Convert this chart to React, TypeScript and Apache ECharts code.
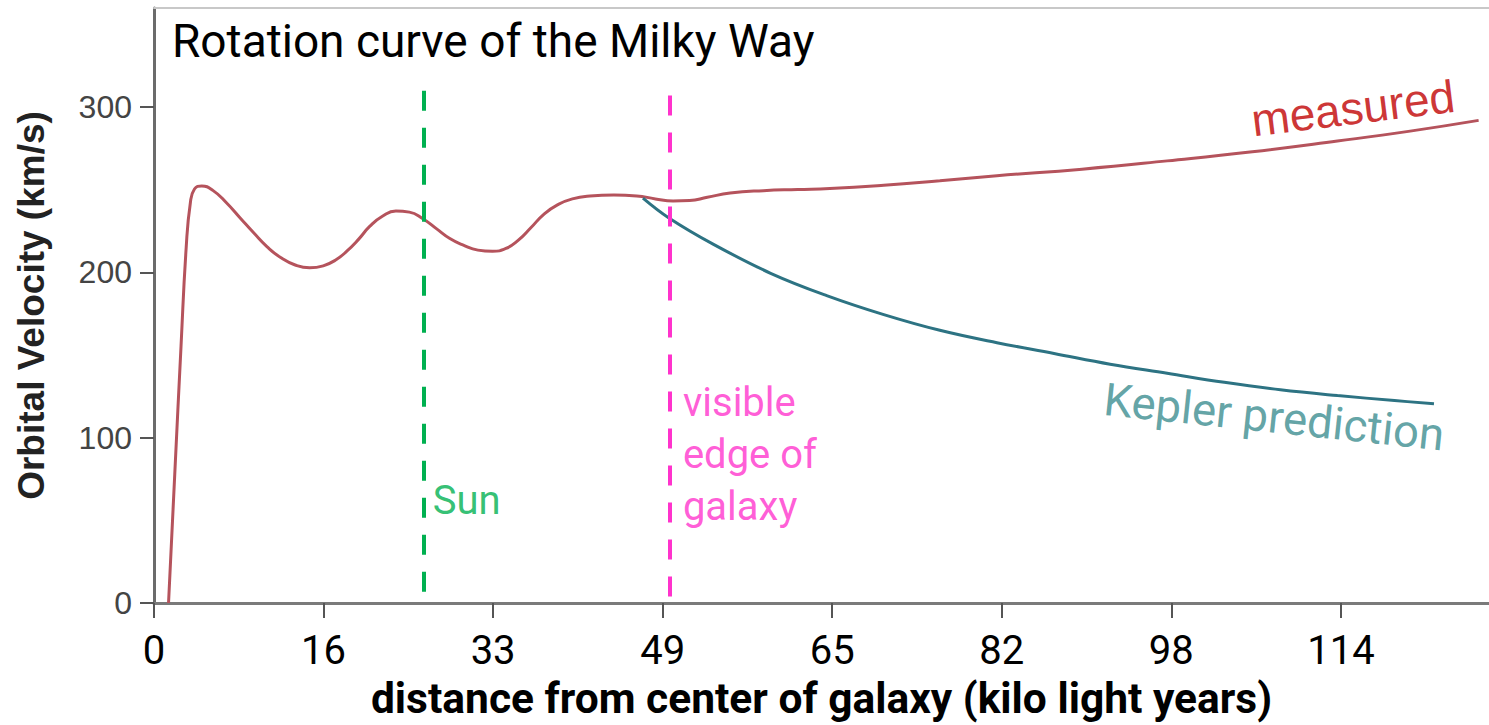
import React, { useEffect, useRef } from "react";
import * as echarts from "echarts";

// ---- data ----
const X_STEP = 49 / 3; // tick step of the distance axis (kilo light years)
const xTickLabels = ["0", "16", "33", "49", "65", "82", "98", "114"];
const yTickValues = [0, 100, 200, 300];

const measuredDistance = [
  1.4, 2.0, 2.6, 3.1, 3.5, 3.9, 4.6, 5.7, 7.0, 8.3, 9.6, 10.9, 12.2, 13.6, 15.0,
  16.3, 17.5, 18.6, 19.7, 20.8, 22.0, 23.3, 24.6, 25.9, 27.2, 28.5, 29.8, 31.2,
  32.6, 33.9, 35.1, 36.3, 37.6, 38.9, 40.3, 42.0, 44.3, 46.5, 48.3, 50.0, 51.6,
  53.3, 55.5, 58.7, 62.0, 65.1, 70.3, 75.7, 81.2, 89.4, 97.6, 105.8, 114.0, 121.0,
  127.6,
];
const measuredVelocity = [
  0, 78, 155, 215, 242, 250.5, 252.3, 249.5, 242, 233, 224, 215.5, 209, 204.5,
  202.8, 204, 207.5, 213, 220, 228, 234, 237.2, 236.5, 232.5, 226.5, 220.5, 216.5,
  213.5, 212.8, 214.5, 219.5, 227, 235.5, 241, 244.5, 246.2, 246.8, 246.3, 244.5,
  243.3, 243.5, 245.5, 248, 249.5, 250.2, 250.8, 252.8, 255.5, 258.5, 262.5, 267.5,
  273, 279.5, 285.5, 292,
];

const keplerDistance = [
  47.1, 49.6, 53.9, 59.4, 64.8, 70.3, 75.7, 81.2, 86.7, 92.1, 97.6, 103.1, 108.5,
  114.0, 119.5, 123.3,
];
const keplerVelocity = [
  245, 233, 217, 199.5, 186, 174.5, 165, 157.5, 151, 144.5, 139, 133.5, 129,
  125.5, 122.5, 120.5,
];

const sunDistance = 26;
const edgeDistance = 49.65;

const title = "Rotation curve of the Milky Way";
const xName = "distance from center of galaxy (kilo light years)";
const yName = "Orbital Velocity (km/s)";

const zip = (xs: number[], ys: number[]) => xs.map((x, i) => [x, ys[i]]);

export default function App() {
  const ref = useRef<HTMLDivElement>(null);

  useEffect(() => {
    if (!ref.current) return;
    const chart = echarts.init(ref.current, null, { renderer: "svg" });
    const xTickValues = xTickLabels.map((_, i) => i * X_STEP);
    const X_MAX = 128.6;

    chart.setOption({
      animation: false,
      backgroundColor: "#ffffff",
      title: {
        text: title,
        left: 167,
        top: 13,
        textStyle: {
          fontFamily: "Roboto",
          fontSize: 46,
          fontWeight: "normal",
          color: "#000000",
        },
      },
      grid: { left: 154, right: 0, top: 8, bottom: 113, containLabel: false },
      xAxis: [
        {
          type: "value",
          min: 0,
          max: X_MAX,
          interval: X_STEP,
          name: xName,
          nameLocation: "middle",
          nameGap: 74,
          nameTextStyle: {
            fontFamily: "Roboto",
            fontSize: 42.5,
            fontWeight: "bold",
            color: "#000000",
          },
          axisLine: { show: true, onZero: false, lineStyle: { color: "#7a7a7a", width: 3 } },
          axisTick: {
            show: true,
            customValues: xTickValues,
            length: 15,
            lineStyle: { color: "#555555", width: 2 },
          },
          axisLabel: {
            customValues: xTickValues,
            formatter: (v: number) => xTickLabels[Math.round(v / X_STEP)] ?? "",
            fontFamily: "Roboto",
            fontSize: 40,
            color: "#000000",
            margin: 27,
          },
          splitLine: { show: false },
        },
        {
          type: "value",
          position: "top",
          min: 0,
          max: X_MAX,
          axisLine: { show: true, onZero: false, lineStyle: { color: "#c8c8c8", width: 2 } },
          axisTick: { show: false },
          axisLabel: { show: false },
          splitLine: { show: false },
        },
      ],
      yAxis: {
        type: "value",
        min: 0,
        max: 360,
        interval: 100,
        name: yName,
        nameLocation: "middle",
        nameGap: 104,
        nameTextStyle: {
          fontFamily: "Liberation Sans",
          fontSize: 37,
          fontWeight: "bold",
          color: "#222222",
        },
        axisLine: { show: true, lineStyle: { color: "#6b6b6b", width: 3 } },
        axisTick: {
          show: true,
          customValues: yTickValues,
          length: 14,
          lineStyle: { color: "#555555", width: 2 },
        },
        axisLabel: {
          customValues: yTickValues,
          fontFamily: "Liberation Sans",
          fontSize: 32,
          color: "#444444",
          margin: 22,
        },
        splitLine: { show: false },
      },
      series: [
        {
          name: "measured",
          type: "line",
          data: zip(measuredDistance, measuredVelocity),
          smooth: 0.5,
          symbol: "none",
          lineStyle: { color: "#b5535c", width: 3 },
          z: 3,
          markLine: {
            silent: true,
            symbol: ["none", "none"],
            label: { show: false },
            lineStyle: { type: [20, 17], width: 4 },
            data: [
              [
                { coord: [sunDistance, 310], lineStyle: { color: "#00B050", type: [20, 17], width: 4 } },
                { coord: [sunDistance, 0] },
              ],
              [
                { coord: [edgeDistance, 307], lineStyle: { color: "#FF33CC", type: [20, 17], width: 4 } },
                { coord: [edgeDistance, 0] },
              ],
            ],
          },
        },
        {
          name: "Kepler prediction",
          type: "line",
          data: zip(keplerDistance, keplerVelocity),
          smooth: 0.4,
          symbol: "none",
          lineStyle: { color: "#2d7383", width: 3 },
          z: 3,
        },
        {
          name: "annotations",
          type: "scatter",
          symbol: "circle",
          symbolSize: 1,
          itemStyle: { color: "rgba(0,0,0,0)" },
          silent: true,
          z: 5,
          data: [
            {
              value: [115.5, 299.4],
              label: {
                show: true,
                position: "inside",
                formatter: "measured",
                rotate: 7,
                color: "#C00000",
                fontFamily: "Liberation Sans",
                fontSize: 46,
              },
            },
            {
              value: [107.9, 112.4],
              label: {
                show: true,
                position: "inside",
                formatter: "Kepler prediction",
                rotate: -6,
                color: "#3a8c8f",
                fontFamily: "Roboto",
                fontSize: 45.5,
              },
            },
            {
              value: [26.8, 62],
              label: {
                show: true,
                position: "right",
                distance: 0,
                formatter: "Sun",
                color: "#00B050",
                fontFamily: "Roboto",
                fontSize: 40,
              },
            },
            {
              value: [50.9, 89.7],
              label: {
                show: true,
                position: "right",
                distance: 0,
                formatter: "visible\nedge of\ngalaxy",
                align: "left",
                lineHeight: 52,
                color: "#FF33CC",
                fontFamily: "Roboto",
                fontSize: 40,
              },
            },
          ],
        },
      ],
    });

    return () => chart.dispose();
  }, []);

  return (
    <div
      ref={ref}
      style={{
        position: "fixed",
        left: 0,
        top: 0,
        width: 1489,
        height: 725,
        background: "#ffffff",
      }}
    />
  );
}
